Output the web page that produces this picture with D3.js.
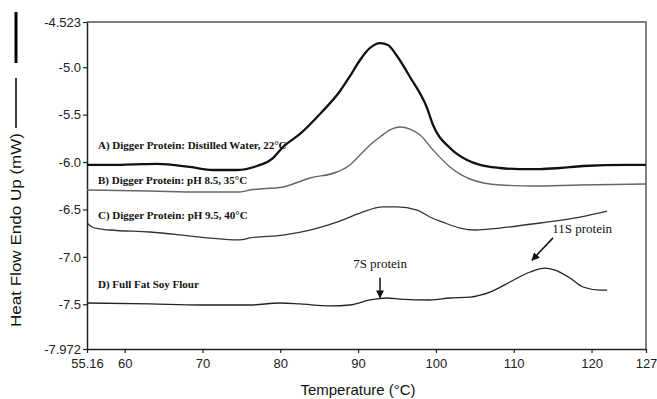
<!DOCTYPE html>
<html>
<head>
<meta charset="utf-8">
<script src="https://cdn.jsdelivr.net/npm/d3@7"></script>
<style>
    body { margin: 0; background: #fff; }
    svg { display: block; }
</style>
</head>
<body>
<svg id="chart" width="657" height="399"></svg>
<script>
// temperature (°C) / heat flow (mW)
const curveA = [
    [55.16, -6.031], [57.73, -6.031], [61.33, -6.025], [64.16, -6.02], [68.4, -6.052],
    [71.35, -6.084], [74.44, -6.084], [77.01, -6.042], [79.06, -5.958], [80.35, -5.841],
    [82.53, -5.704], [85.1, -5.493], [87.68, -5.251], [88.96, -5.093], [90.25, -4.924],
    [91.53, -4.797], [92.82, -4.745], [93.84, -4.766], [95.0, -4.882], [96.67, -5.103],
    [98.86, -5.43], [99.63, -5.609], [101.81, -5.852], [104.0, -5.979], [105.67, -6.031],
    [108.24, -6.063], [110.81, -6.074], [113.38, -6.074], [115.95, -6.063], [118.9, -6.042],
    [124.56, -6.031], [127.0, -6.031]
];
const curveB = [
    [55.16, -6.295], [63.26, -6.306], [69.68, -6.316], [74.82, -6.316], [76.11, -6.295],
    [80.35, -6.263], [83.82, -6.168], [87.29, -6.105], [88.96, -6.031], [90.25, -5.926],
    [91.53, -5.82], [92.82, -5.736], [94.1, -5.662], [95.39, -5.631], [96.67, -5.652],
    [97.96, -5.715], [99.63, -5.873], [101.81, -6.052], [104.38, -6.179], [108.24, -6.242],
    [112.48, -6.253], [118.52, -6.242], [127.0, -6.232]
];
const curveC = [
    [55.16, -6.643], [55.8, -6.685], [56.83, -6.706], [58.12, -6.717], [63.26, -6.738],
    [69.68, -6.791], [74.82, -6.822], [76.11, -6.801], [80.35, -6.77], [83.82, -6.717],
    [87.29, -6.633], [90.25, -6.538], [93.2, -6.474], [95.0, -6.474], [97.57, -6.506],
    [99.24, -6.58], [101.17, -6.643], [103.1, -6.696], [105.03, -6.717], [108.24, -6.696],
    [113.38, -6.643], [118.52, -6.58], [122.0, -6.517]
];
const curveD = [
    [55.16, -7.487], [63.26, -7.497], [69.68, -7.508], [76.11, -7.508], [79.96, -7.487],
    [82.53, -7.497], [86.39, -7.518], [88.96, -7.508], [91.53, -7.455], [93.72, -7.434],
    [95.39, -7.445], [99.24, -7.455], [101.81, -7.434], [104.38, -7.424], [106.95, -7.371],
    [109.52, -7.265], [112.09, -7.16], [114.02, -7.118], [115.31, -7.139], [117.23, -7.223],
    [118.9, -7.318], [121.09, -7.35], [122.0, -7.35]
];

const seriesLabels = [
    "A) Digger Protein: Distilled Water, 22°C",
    "B) Digger Protein: pH 8.5, 35°C",
    "C) Digger Protein: pH 9.5, 40°C",
    "D) Full Fat Soy Flour"
];
const labelLevels = [-5.82, -6.19, -6.56, -7.29];

const xTicks = [55.16, 60, 70, 80, 90, 100, 110, 120, 127];
const yTicks = [-4.523, -5.0, -5.5, -6.0, -6.5, -7.0, -7.5, -7.972];
const yTickLabels = ["-4.523", "-5.0", "-5.5", "-6.0", "-6.5", "-7.0", "-7.5", "-7.972"];

const svg = d3.select("#chart");
const margin = { left: 87, right: 11, top: 22, bottom: 50 };
const width = 657;
const height = 399;

const x = d3.scaleLinear().domain([55.16, 127]).range([margin.left, width - margin.right]);
const y = d3.scaleLinear().domain([-4.523, -7.972]).range([margin.top, height - margin.bottom]);

// frame (top + right)
svg.append("path")
    .attr("d", `M${x(55.16)},${y(-4.523)}H${x(127)}V${y(-7.972)}`)
    .attr("fill", "none")
    .attr("stroke", "#555")
    .attr("stroke-width", 1.5);

const xAxis = svg.append("g")
    .attr("transform", `translate(0,${y(-7.972)})`)
    .call(d3.axisBottom(x).tickValues(xTicks).tickFormat((d) => d).tickSize(4).tickSizeOuter(0));

const yAxis = svg.append("g")
    .attr("transform", `translate(${x(55.16)},0)`)
    .call(d3.axisLeft(y).tickValues(yTicks).tickFormat((d, i) => yTickLabels[i]).tickSize(4).tickSizeOuter(0));

[xAxis, yAxis].forEach((g) => {
    g.select(".domain").attr("stroke", "#222").attr("stroke-width", 1.5);
    g.selectAll(".tick line").attr("stroke", "#222").attr("stroke-width", 1.2);
    g.selectAll(".tick text")
        .attr("fill", "#222")
        .attr("font-family", "Liberation Sans, Arial, sans-serif")
        .attr("font-size", 13);
});
xAxis.selectAll(".tick text").attr("dy", "0.9em");
yAxis.selectAll(".tick text").attr("x", -6);

// axis titles
svg.append("text")
    .attr("x", 358)
    .attr("y", 395)
    .attr("text-anchor", "middle")
    .attr("font-family", "Liberation Sans, Arial, sans-serif")
    .attr("font-size", 15)
    .attr("fill", "#111")
    .text("Temperature (°C)");

svg.append("text")
    .attr("transform", "translate(21,230) rotate(-90)")
    .attr("text-anchor", "middle")
    .attr("font-family", "Liberation Sans, Arial, sans-serif")
    .attr("font-size", 15)
    .attr("fill", "#111")
    .attr("textLength", 194)
    .attr("lengthAdjust", "spacingAndGlyphs")
    .text("Heat Flow Endo Up (mW)");

// line-style key next to the y title
svg.append("line").attr("x1", 16).attr("x2", 16).attr("y1", 12).attr("y2", 63)
    .attr("stroke", "#000").attr("stroke-width", 3);
svg.append("line").attr("x1", 16).attr("x2", 16).attr("y1", 78).attr("y2", 128)
    .attr("stroke", "#000").attr("stroke-width", 1.5);

// curves
const line = d3.line()
    .x((d) => x(d[0]))
    .y((d) => y(d[1]))
    .curve(d3.curveMonotoneX);

const curves = [
    { data: curveA, colour: "#111", w: 2.3 },
    { data: curveB, colour: "#666", w: 1.4 },
    { data: curveC, colour: "#333", w: 1.3 },
    { data: curveD, colour: "#222", w: 1.3 }
];

svg.append("g")
    .selectAll("path")
    .data(curves)
    .join("path")
    .attr("d", (d) => line(d.data))
    .attr("fill", "none")
    .attr("stroke", (d) => d.colour)
    .attr("stroke-width", (d) => d.w)
    .attr("stroke-linejoin", "round");

// series labels
svg.append("g")
    .selectAll("text")
    .data(seriesLabels)
    .join("text")
    .attr("x", x(56.57))
    .attr("y", (d, i) => y(labelLevels[i]))
    .attr("dy", "0.35em")
    .attr("font-family", "Liberation Serif, Times New Roman, serif")
    .attr("font-weight", "bold")
    .attr("font-size", 11)
    .attr("fill", "#111")
    .text((d) => d);

// peak annotations
svg.append("defs").append("marker")
    .attr("id", "arrow")
    .attr("viewBox", "0 0 10 10")
    .attr("refX", 9)
    .attr("refY", 5)
    .attr("markerWidth", 8)
    .attr("markerHeight", 8)
    .attr("markerUnits", "userSpaceOnUse")
    .attr("orient", "auto")
    .append("path")
    .attr("d", "M0,0L10,5L0,10Z")
    .attr("fill", "#111");

const notes = [
    { text: "7S protein", tx: 92.82, ty: -7.065, from: [92.82, -7.22], to: [92.82, -7.43] },
    { text: "11S protein", tx: 118.8, ty: -6.696, from: [115.05, -6.8], to: [112.35, -7.035] }
];

notes.forEach((n) => {
    svg.append("text")
        .attr("x", x(n.tx))
        .attr("y", y(n.ty))
        .attr("dy", "0.35em")
        .attr("text-anchor", "middle")
        .attr("font-family", "Liberation Serif, Times New Roman, serif")
        .attr("font-size", 13)
        .attr("fill", "#111")
        .text(n.text);
    svg.append("line")
        .attr("x1", x(n.from[0]))
        .attr("y1", y(n.from[1]))
        .attr("x2", x(n.to[0]))
        .attr("y2", y(n.to[1]))
        .attr("stroke", "#111")
        .attr("stroke-width", 1.5)
        .attr("marker-end", "url(#arrow)");
});
</script>
</body>
</html>
